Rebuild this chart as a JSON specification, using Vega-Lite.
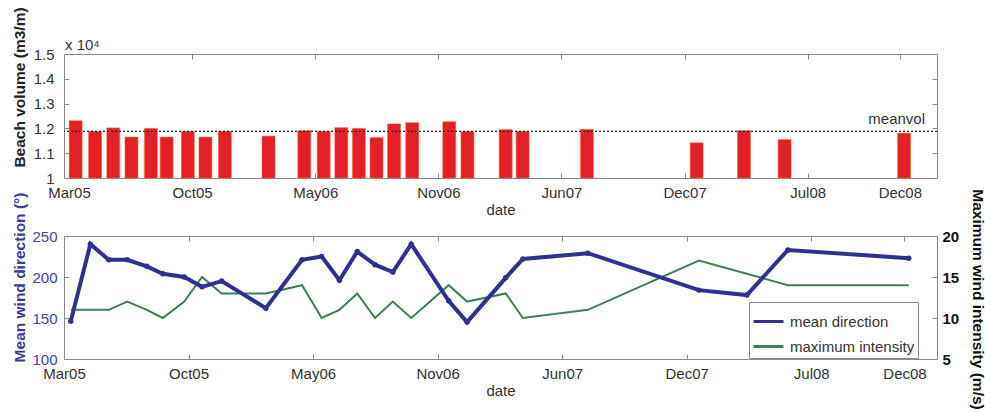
{
  "$schema": "https://vega.github.io/schema/vega-lite/v6.json",
  "background": "white",
  "padding": {"left": 11, "top": 6, "right": 0, "bottom": 0},
  "config": {
    "font": "Liberation Sans",
    "view": {"stroke": "#8a8a8a", "strokeWidth": 1},
    "axis": {"grid": false, "domain": false, "labelFlush": false, "tickColor": "#8a8a8a", "tickSize": -5, "labelFontSize": 15, "labelColor": "#333333", "labelFont": "Liberation Sans", "titleFont": "Liberation Sans", "titleFontSize": 15.5, "titleFontWeight": "bold", "titleColor": "#222222"}
  },
  "datasets": {
    "beach": [
      {"date": "2005-04-01", "volume": 12310},
      {"date": "2005-05-03", "volume": 11880},
      {"date": "2005-06-02", "volume": 12020},
      {"date": "2005-07-02", "volume": 11650},
      {"date": "2005-08-03", "volume": 12000},
      {"date": "2005-08-29", "volume": 11650},
      {"date": "2005-10-03", "volume": 11880},
      {"date": "2005-11-01", "volume": 11650},
      {"date": "2005-12-03", "volume": 11880},
      {"date": "2006-02-13", "volume": 11690},
      {"date": "2006-04-13", "volume": 11910},
      {"date": "2006-05-15", "volume": 11880},
      {"date": "2006-06-13", "volume": 12030},
      {"date": "2006-07-12", "volume": 12000},
      {"date": "2006-08-10", "volume": 11630},
      {"date": "2006-09-08", "volume": 12180},
      {"date": "2006-10-08", "volume": 12230},
      {"date": "2006-12-08", "volume": 12270},
      {"date": "2007-01-07", "volume": 11870},
      {"date": "2007-03-11", "volume": 11950},
      {"date": "2007-04-08", "volume": 11880},
      {"date": "2007-07-23", "volume": 11960},
      {"date": "2008-01-20", "volume": 11420},
      {"date": "2008-04-07", "volume": 11910},
      {"date": "2008-06-13", "volume": 11550},
      {"date": "2008-12-27", "volume": 11810}
    ],
    "wind": [
      {"date": "2005-04-01", "direction": 146, "intensity": 11},
      {"date": "2005-05-03", "direction": 240, "intensity": 11},
      {"date": "2005-06-02", "direction": 221, "intensity": 11},
      {"date": "2005-07-02", "direction": 221, "intensity": 12},
      {"date": "2005-08-03", "direction": 213, "intensity": 11},
      {"date": "2005-08-29", "direction": 204, "intensity": 10},
      {"date": "2005-10-03", "direction": 200, "intensity": 12},
      {"date": "2005-11-01", "direction": 188, "intensity": 15},
      {"date": "2005-12-03", "direction": 195, "intensity": 13},
      {"date": "2006-02-13", "direction": 162, "intensity": 13},
      {"date": "2006-04-13", "direction": 221, "intensity": 14},
      {"date": "2006-05-15", "direction": 225, "intensity": 10},
      {"date": "2006-06-13", "direction": 196, "intensity": 11},
      {"date": "2006-07-12", "direction": 231, "intensity": 13},
      {"date": "2006-08-10", "direction": 215, "intensity": 10},
      {"date": "2006-09-08", "direction": 206, "intensity": 12},
      {"date": "2006-10-08", "direction": 240, "intensity": 10},
      {"date": "2006-12-08", "direction": 171, "intensity": 14},
      {"date": "2007-01-07", "direction": 145, "intensity": 12},
      {"date": "2007-03-11", "direction": 199, "intensity": 13},
      {"date": "2007-04-08", "direction": 222, "intensity": 10},
      {"date": "2007-07-23", "direction": 229, "intensity": 11},
      {"date": "2008-01-20", "direction": 184, "intensity": 17},
      {"date": "2008-04-07", "direction": 178, "intensity": 15.4},
      {"date": "2008-06-13", "direction": 233, "intensity": 14},
      {"date": "2008-12-27", "direction": 223, "intensity": 14}
    ]
  },
  "bounds": "flush",
  "spacing": 58,
  "resolve": {"scale": {"color": "independent"}},
  "vconcat": [
    {
      "width": 873,
      "height": 124,
      "layer": [
        {
          "data": {"name": "beach"},
          "mark": {"type": "bar", "size": 13, "color": "#e41f27", "stroke": "#f26b2f", "strokeWidth": 0.5},
          "encoding": {
            "x": {"field": "date", "type": "temporal",
              "scale": {"type": "utc", "domain": [{"year": 2005, "month": 3, "date": 21, "utc": true}, {"year": 2009, "month": 2, "date": 11, "utc": true}]},
              "axis": {"orient": "bottom", "labelExpr": "utcFormat(datum.value, '%b%y')", "labelPadding": 12, "title": "date", "titleFontWeight": "normal", "titleFontSize": 15, "titleColor": "#333333", "titlePadding": 2,
                "values": [{"year": 2005, "month": 3, "date": 21, "utc": true}, {"year": 2005, "month": 10, "date": 10, "utc": true}, {"year": 2006, "month": 5, "date": 1, "utc": true}, {"year": 2006, "month": 11, "date": 20, "utc": true}, {"year": 2007, "month": 6, "date": 11, "utc": true}, {"year": 2007, "month": 12, "date": 31, "utc": true}, {"year": 2008, "month": 7, "date": 21, "utc": true}, {"year": 2008, "month": 12, "date": 20, "utc": true}]}},
            "y": {"field": "volume", "type": "quantitative", "scale": {"domain": [10000, 15000], "zero": false},
              "axis": {"orient": "left", "values": [10000, 11000, 12000, 13000, 14000, 15000], "labelExpr": "datum.value / 10000", "labelPadding": 15, "title": "Beach volume (m3/m)", "titleX": -45, "titleY": 33, "titleAngle": -90, "titleBaseline": "middle", "titleAlign": "center"}},
            "y2": {"datum": 10000}
          }
        },
        {
          "data": {"values": [{"meanvol": 11880}]},
          "mark": {"type": "rule", "color": "#222222", "strokeWidth": 1.2, "strokeDash": [2, 2]},
          "encoding": {
            "y": {"field": "meanvol", "type": "quantitative", "axis": {"orient": "right", "labels": false, "title": null, "values": [11000, 12000, 13000, 14000]}}
          }
        },
        {
          "data": {"values": [{"date": "2009-02-11", "meanvol": 11880, "label": "meanvol"}]},
          "mark": {"type": "text", "align": "right", "baseline": "alphabetic", "dx": -7, "dy": -7, "fontSize": 15, "color": "#333333"},
          "encoding": {
            "x": {"field": "date", "type": "temporal", "axis": {"orient": "top", "labels": false, "title": null, "values": [{"year": 2005, "month": 10, "date": 10, "utc": true}, {"year": 2006, "month": 5, "date": 1, "utc": true}, {"year": 2006, "month": 11, "date": 20, "utc": true}, {"year": 2007, "month": 6, "date": 11, "utc": true}, {"year": 2007, "month": 12, "date": 31, "utc": true}, {"year": 2008, "month": 7, "date": 21, "utc": true}, {"year": 2008, "month": 12, "date": 20, "utc": true}]}},
            "y": {"field": "meanvol", "type": "quantitative", "axis": null},
            "text": {"field": "label"}
          }
        },
        {
          "data": {"values": [{"date": "2005-03-21", "top": 15000, "label": "x 10⁴"}]},
          "mark": {"type": "text", "align": "left", "baseline": "alphabetic", "dx": -4, "dy": -4, "fontSize": 15, "color": "#333333"},
          "encoding": {
            "x": {"field": "date", "type": "temporal", "axis": null},
            "y": {"field": "top", "type": "quantitative", "axis": null},
            "text": {"field": "label"}
          }
        }
      ],
      "resolve": {"axis": {"x": "independent", "y": "independent"}}
    },
    {
      "width": 873,
      "height": 123,
      "layer": [
        {
          "data": {"name": "wind"},
          "mark": {"type": "line", "strokeWidth": 2},
          "encoding": {
            "x": {"field": "date", "type": "temporal",
              "scale": {"type": "utc", "domain": [{"year": 2005, "month": 3, "date": 21, "utc": true}, {"year": 2009, "month": 2, "date": 11, "utc": true}]},
              "axis": {"orient": "top", "labels": false, "title": null, "values": [{"year": 2005, "month": 10, "date": 10, "utc": true}, {"year": 2006, "month": 5, "date": 1, "utc": true}, {"year": 2006, "month": 11, "date": 20, "utc": true}, {"year": 2007, "month": 6, "date": 11, "utc": true}, {"year": 2007, "month": 12, "date": 31, "utc": true}, {"year": 2008, "month": 7, "date": 21, "utc": true}, {"year": 2008, "month": 12, "date": 20, "utc": true}]}},
            "y": {"field": "intensity", "type": "quantitative", "scale": {"domain": [5, 20], "zero": false},
              "axis": {"orient": "right", "values": [5, 10, 15, 20], "labelPadding": 10, "labelFontWeight": "bold", "labelColor": "#111111", "title": "Maximum wind intensity (m/s)", "titleX": 40, "titleY": 63, "titleAngle": 90, "titleBaseline": "middle", "titleAlign": "center", "titleColor": "#111111"}},
            "color": {"datum": "maximum intensity"}
          }
        },
        {
          "data": {"name": "wind"},
          "mark": {"type": "line", "strokeWidth": 4, "point": {"filled": true, "size": 30}},
          "encoding": {
            "x": {"field": "date", "type": "temporal",
              "axis": {"orient": "bottom", "labelExpr": "utcFormat(datum.value, '%b%y')", "labelPadding": 12, "title": "date", "titleFontWeight": "normal", "titleFontSize": 15, "titleColor": "#333333", "titlePadding": 2,
                "values": [{"year": 2005, "month": 3, "date": 21, "utc": true}, {"year": 2005, "month": 10, "date": 10, "utc": true}, {"year": 2006, "month": 5, "date": 1, "utc": true}, {"year": 2006, "month": 11, "date": 20, "utc": true}, {"year": 2007, "month": 6, "date": 11, "utc": true}, {"year": 2007, "month": 12, "date": 31, "utc": true}, {"year": 2008, "month": 7, "date": 21, "utc": true}, {"year": 2008, "month": 12, "date": 20, "utc": true}]}},
            "y": {"field": "direction", "type": "quantitative", "scale": {"domain": [100, 250], "zero": false},
              "axis": {"orient": "left", "values": [100, 150, 200, 250], "labelPadding": 12, "labelColor": "#45449a", "title": "Mean wind direction (°)", "titleColor": "#3b3a9c", "titleX": -45, "titleY": 41, "titleAngle": -90, "titleBaseline": "middle", "titleAlign": "center"}},
            "color": {"datum": "mean direction", "scale": {"domain": ["mean direction", "maximum intensity"], "range": ["#2e3192", "#3f8052"]},
              "legend": {"orient": "none", "legendX": 685, "legendY": 66, "title": null, "symbolType": "stroke", "symbolSize": 900, "symbolStrokeWidth": 3, "labelFontSize": 15, "labelColor": "#333333", "strokeColor": "#8a8a8a", "fillColor": "white", "padding": 3, "rowPadding": 0, "labelOffset": 5}}
          }
        }
      ],
      "resolve": {"scale": {"y": "independent"}, "axis": {"x": "independent", "y": "independent"}}
    }
  ]
}
